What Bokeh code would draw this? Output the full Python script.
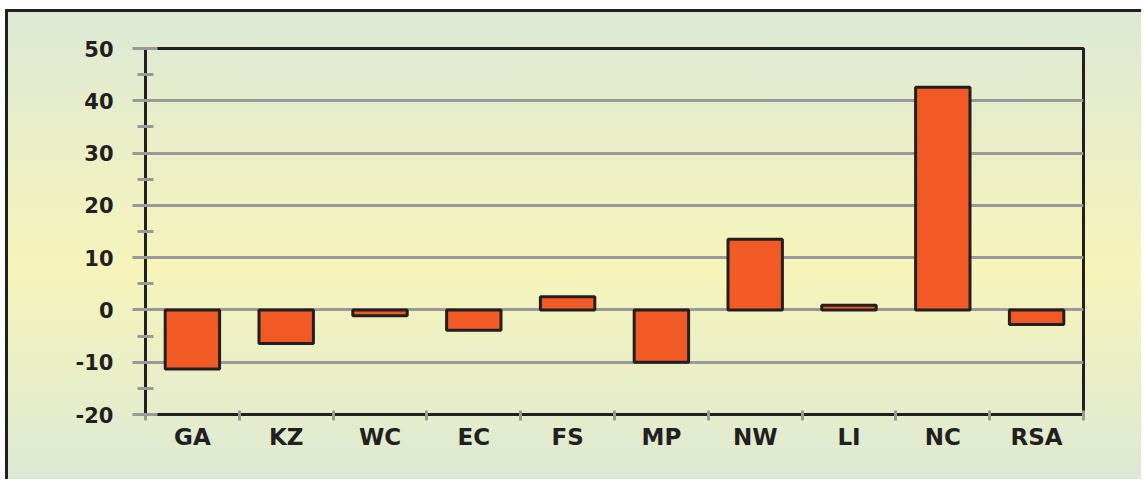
from bokeh.plotting import figure
from bokeh.models import FixedTicker, Range1d, ColumnDataSource
from bokeh.embed import file_html
from bokeh.resources import INLINE

regions = ["GA", "KZ", "WC", "EC", "FS", "MP", "NW", "LI", "NC", "RSA"]
values = [-11.3, -6.4, -1.1, -3.9, 2.5, -10.0, 13.5, 0.9, 42.6, -2.8]
y_ticks = [-20, -10, 0, 10, 20, 30, 40, 50]
y_minor = [-15, -5, 5, 15, 25, 35, 45]

xs = [i + 0.5 for i in range(len(regions))]
src = ColumnDataSource(dict(x=xs, top=[max(v, 0) for v in values],
                            bottom=[min(v, 0) for v in values]))

OX, OY = 8, 12  # canvas origin on the page
W, H = 1136, 470
p = figure(width=W, height=H, output_backend="svg", toolbar_location=None,
           x_range=Range1d(0, len(regions)), y_range=Range1d(-20, 50),
           min_border_left=145 - OX, min_border_top=48 - OY,
           min_border_right=W - (1083 - OX), min_border_bottom=H - (414 - OY))
p.styles = {"background": "linear-gradient(to bottom, #dde9d5 0%, #f6f4ba 55%, #dce9d4 100%)",
            "border-left": "3px solid #231f20", "border-top": "3px solid #231f20",
            "margin-left": "5px", "margin-top": "9px"}
p.border_fill_color = None
p.background_fill_color = None
p.outline_line_color = "#231f20"
p.outline_line_width = 3

p.vbar(x="x", top="top", bottom="bottom", width=0.58, source=src,
       fill_color="#F15A24", line_color="#231f20", line_width=3)

p.xgrid.visible = False
p.ygrid.ticker = FixedTicker(ticks=y_ticks)
p.ygrid.grid_line_color = "#999999"
p.ygrid.grid_line_width = 3

ya = p.yaxis[0]
ya.ticker = FixedTicker(ticks=y_ticks, minor_ticks=y_minor)
ya.major_label_overrides = {t: str(t) for t in y_ticks}
ya.axis_line_color = "#231f20"
ya.axis_line_width = 3
ya.major_tick_line_color = "#999999"
ya.major_tick_line_width = 3
ya.major_tick_in = 12
ya.major_tick_out = 13
ya.minor_tick_line_color = "#999999"
ya.minor_tick_line_width = 3
ya.minor_tick_in = 8
ya.minor_tick_out = 8
ya.major_label_text_font = "DejaVu Sans"
ya.major_label_text_font_style = "bold"
ya.major_label_text_font_size = "21px"
ya.major_label_text_color = "#231f20"
ya.major_label_standoff = 19

xa = p.xaxis[0]
xa.ticker = FixedTicker(ticks=xs, minor_ticks=list(range(len(regions) + 1)))
xa.major_label_overrides = {x: r for x, r in zip(xs, regions)}
xa.axis_line_color = "#231f20"
xa.axis_line_width = 3
xa.major_tick_line_color = None
xa.major_tick_in = 0
xa.major_tick_out = 0
xa.minor_tick_line_color = "#999999"
xa.minor_tick_line_width = 3
xa.minor_tick_in = 4
xa.minor_tick_out = 6
xa.major_label_text_font = "DejaVu Sans"
xa.major_label_text_font_style = "bold"
xa.major_label_text_font_size = "23px"
xa.major_label_text_color = "#231f20"
xa.major_label_standoff = 3

open("out.html", "w").write(file_html(p, INLINE))
